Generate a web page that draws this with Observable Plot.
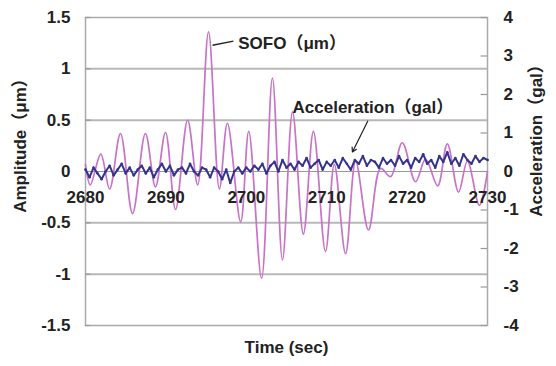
<!DOCTYPE html>
<html>
<head>
<meta charset="utf-8">
<script src="https://cdn.jsdelivr.net/npm/d3@7"></script>
<script src="https://cdn.jsdelivr.net/npm/@observablehq/plot@0.6"></script>
<style>
  html, body { margin: 0; padding: 0; background: #fff; }
  #chart { width: 556px; height: 366px; }
</style>
</head>
<body>
<div id="chart"></div>
<script>
// ---- data ----
const xTicks = [2680, 2690, 2700, 2710, 2720, 2730];
const ampTicks = [-1.5, -1, -0.5, 0, 0.5, 1, 1.5];
const accTicks = [-4, -3, -2, -1, 0, 1, 2, 3, 4];
const gridLevels = [-1, -0.5, 0.5, 1];

// SOFO amplitude (µm): times of local extrema and their values
const sofoTime = [2680, 2680.6, 2681.9, 2683.0, 2684.35, 2685.85, 2687.45, 2688.7, 2689.95, 2691.2,
  2692.7, 2693.95, 2695.3, 2696.65, 2697.65, 2699.3, 2700.3, 2701.9, 2703.25, 2704.5,
  2705.75, 2707.1, 2708.35, 2709.85, 2710.95, 2712.35, 2713.6, 2715.2, 2716.7, 2717.95,
  2719.4, 2721.05, 2722.3, 2723.8, 2725.0, 2726.4, 2727.5, 2729.0, 2730];
const sofoAmp = [0.07, -0.13, 0.17, -0.17, 0.37, -0.41, 0.37, -0.15, 0.38, -0.37,
  0.5, -0.13, 1.36, -0.17, 0.47, -0.49, 0.39, -1.04, 0.91, -0.86,
  0.58, -0.61, 0.39, -0.78, 0.07, -0.8, 0.1, -0.57, 0.03, -0.05,
  0.28, -0.1, 0.12, -0.14, 0.27, -0.2, 0.1, -0.33, 0.0];

// Acceleration (gal), sampled every 0.5 s from 2680 to 2730
const accStart = 2680, accStep = 0.5;
const accGal = [
  0.05, -0.15, 0.1, -0.05, -0.2, 0.0, 0.15, -0.1, 0.05, 0.2, -0.05, 0.1, -0.1, 0.05, 0.15, -0.05, 0.1, -0.15, 0.05, 0.2,
  0.0, 0.15, -0.1, 0.05, 0.1, -0.05, 0.2, 0.0, -0.1, 0.1, 0.05, -0.15, 0.1, 0.0, -0.2, 0.05, -0.3, 0.0, 0.1, -0.05,
  0.1, 0.0, 0.15, 0.05, 0.2, -0.05, 0.15, 0.25, 0.0, 0.3, 0.1, 0.2, 0.05, 0.25, 0.15, 0.35, 0.1, 0.2, 0.3, 0.05,
  0.25, 0.15, 0.3, 0.1, 0.35, 0.2, 0.05, 0.3, 0.2, 0.4, 0.15, 0.3, 0.25, 0.1, 0.35, 0.2, 0.3, 0.15, 0.4, 0.2,
  0.3, 0.1, 0.35, 0.25, 0.45, 0.2, 0.3, 0.1, 0.4, 0.25, 0.5, 0.2, 0.35, 0.15, 0.45, 0.3, 0.2, 0.4, 0.25, 0.35, 0.3
];

// annotations
const sofoLabel = [{t: 2699.0, v: 1.25, text: "SOFO（μm）"}];
const sofoLeader = [{t1: 2695.8, v1: 1.23, t2: 2698.4, v2: 1.27}];
const accLabel = [{t: 2705.75, v: 0.62, text: "Acceleration（gal）"}];
const accLeader = [{t1: 2715.1, v1: 0.49, t2: 2713.2, v2: 0.19}];

// ---- tables ----
const gal2amp = 1.5 / 4; // right axis -4..4 spans left axis -1.5..1.5
const sofo = sofoTime.map((t, i) => ({t, v: sofoAmp[i]}));
const acc = accGal.map((g, i) => ({t: accStart + i * accStep, v: g * gal2amp}));
const accTickPos = accTicks.map(g => g * gal2amp);

const FS = 17;
const chart = Plot.plot({
  width: 556,
  height: 366,
  marginLeft: 85,
  marginRight: 69,
  marginTop: 17,
  marginBottom: 41,
  x: {domain: [2680, 2730], axis: null},
  y: {domain: [-1.5, 1.5], axis: null},
  style: {fontFamily: "'Liberation Sans', Arial, 'Noto Sans CJK JP', sans-serif", fontWeight: "bold", fontSize: FS + "px", color: "#222", background: "#fff"},
  marks: [
    Plot.ruleY(gridLevels, {stroke: "#b8b8b8", strokeWidth: 2}),
    Plot.ruleY([0], {stroke: "#999", strokeWidth: 1}),
    Plot.frame({stroke: "#aaa", strokeWidth: 1.5}),
    Plot.ruleY(ampTicks, {x1: 2680, x2: 2680.7, stroke: "#999", strokeWidth: 1.2}),
    Plot.ruleY(accTickPos, {x1: 2729.2, x2: 2730, stroke: "#999", strokeWidth: 1.2}),
    Plot.axisY(ampTicks, {anchor: "left", tickSize: 0, tickPadding: 15, tickFormat: d => String(d), label: null, fontSize: FS}),
    Plot.axisY(accTickPos, {anchor: "right", tickSize: 0, tickPadding: 16, tickFormat: d => String(Math.round(d / gal2amp)), label: null, fontSize: FS}),
    Plot.line(sofo, {x: "t", y: "v", stroke: "#c872c8", strokeWidth: 1.7, curve: "catmull-rom"}),
    Plot.line(acc, {x: "t", y: "v", stroke: "#34348e", strokeWidth: 2}),
    Plot.dot(acc, {x: "t", y: "v", r: 1.3, fill: "#34348e", stroke: null}),
    Plot.text(xTicks, {x: d => d, y: 0, dy: 26, text: d => String(d), fontSize: FS}),
    Plot.link(sofoLeader, {x1: "t1", y1: "v1", x2: "t2", y2: "v2", stroke: "#222", strokeWidth: 1.5}),
    Plot.text(sofoLabel, {x: "t", y: "v", text: "text", textAnchor: "start", fontSize: FS}),
    Plot.arrow(accLeader, {x1: "t1", y1: "v1", x2: "t2", y2: "v2", stroke: "#222", strokeWidth: 1.2, headLength: 6}),
    Plot.text(accLabel, {x: "t", y: "v", text: "text", textAnchor: "start", fontSize: FS}),
    Plot.text(["Amplitude（μm）"], {frameAnchor: "left", textAnchor: "middle", rotate: -90, dx: -65, dy: -30, text: d => d, fontSize: FS}),
    Plot.text(["Acceleration（gal）"], {frameAnchor: "right", textAnchor: "middle", rotate: -90, dx: 49, dy: -35, text: d => d, fontSize: FS}),
    Plot.text(["Time (sec)"], {frameAnchor: "bottom", dy: 27, text: d => d, fontSize: FS})
  ]
});
document.getElementById("chart").appendChild(chart);
</script>
</body>
</html>
